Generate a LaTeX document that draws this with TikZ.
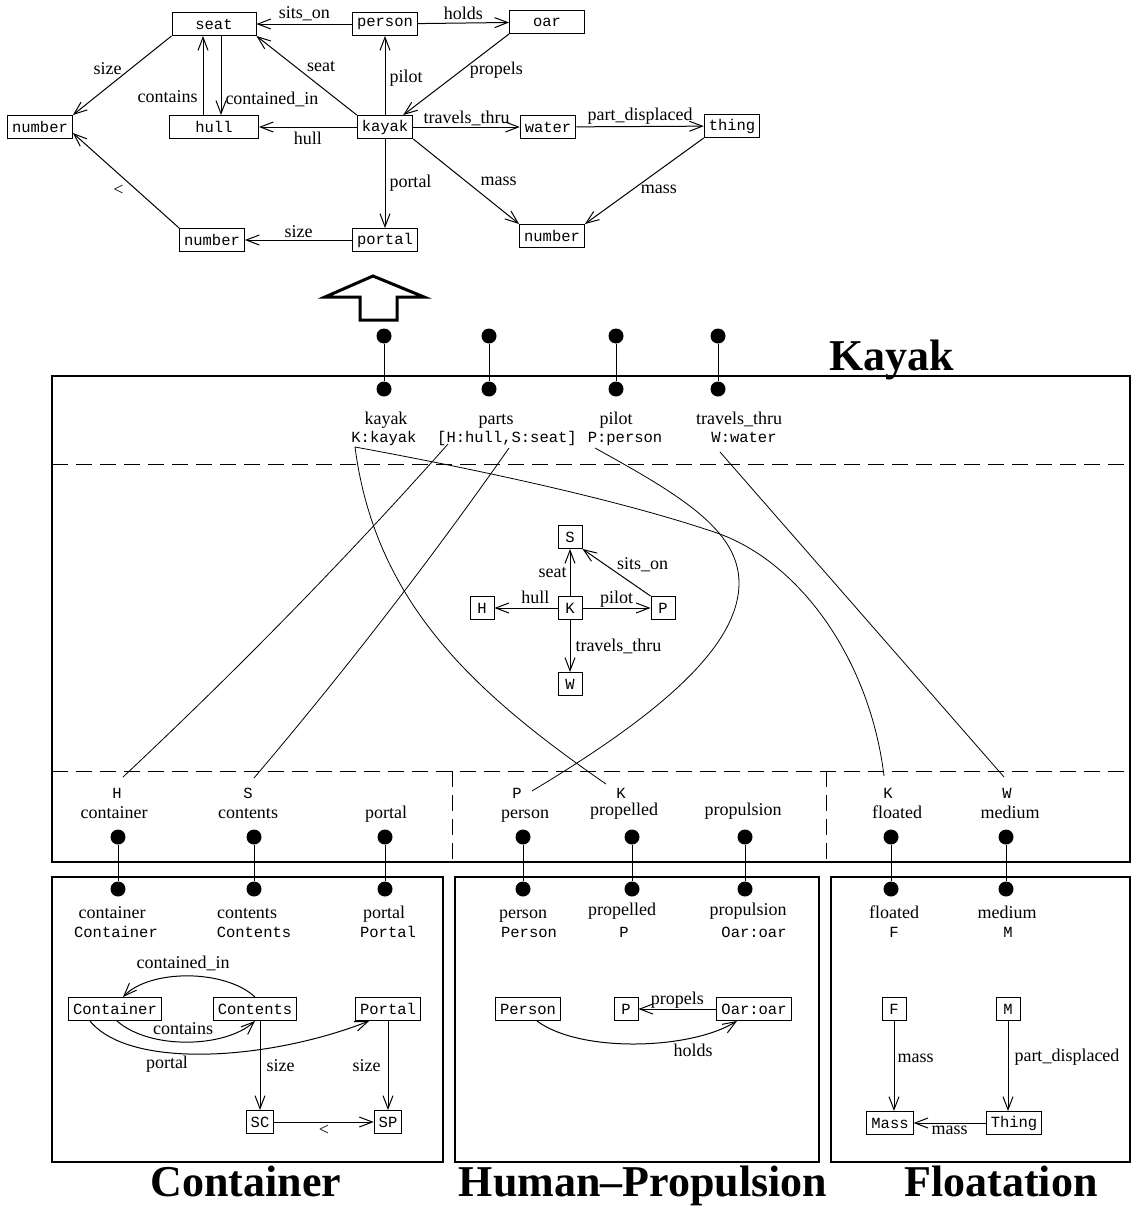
\documentclass[tikz,border=0pt]{standalone}
\usepackage{fontspec}
\setmainfont{Liberation Serif}
\setmonofont{Liberation Mono}
\usetikzlibrary{arrows.meta,positioning}
\newcommand{\labfont}{\fontsize{18}{20}\selectfont}
\newcommand{\objfont}{\fontsize{15.5}{18}\selectfont\ttfamily}
\newcommand{\ttlfont}{\fontsize{44}{48}\selectfont\bfseries}
\tikzstyle{every node}=[inner sep=0pt, font=\labfont]
\tikzstyle{obj}=[draw, rectangle, font=\objfont, inner xsep=4.5pt, minimum height=23pt, line width=1pt]
\tikzstyle{sq}=[obj, minimum width=24pt]
\tikzstyle{mono}=[font=\objfont, anchor=base]
\tikzstyle{rolelab}=[anchor=base]
\tikzstyle{rel}=[-{Straight Barb[length=13pt,width=10pt]}, line width=1pt]
\tikzstyle{link}=[line width=0.8pt]
\tikzstyle{port}=[circle, fill, minimum size=15pt]
\tikzstyle{mframe}=[line width=1.2pt]
\tikzstyle{dashsep}=[line width=1pt, dash pattern=on 16pt off 8pt]
\tikzstyle{ttl}=[font=\ttlfont, anchor=base]

\begin{document}
\begin{tikzpicture}[x=1pt, y=-1pt]
\useasboundingbox (0,0) rectangle (1132,1210);

% top graph
\node[obj, minimum width=84pt] (tseat) at (214,24) {seat};
\node[obj] (tpers) at (385,24) {person};
\node[obj, minimum width=75pt] (toar) at (547,22) {oar};
\node[obj] (tnumL) at (40,127) {number};
\node[obj, minimum width=89pt] (thull) at (214,127) {hull};
\node[obj] (tkay) at (385,127) {kayak};
\node[obj] (twat) at (548,127) {water};
\node[obj] (tthing) at (732,126) {thing};
\node[obj] (tnumB) at (212,240) {number};
\node[obj] (tport) at (385,240) {portal};
\node[obj] (tnumR) at (552,236) {number};

\draw[rel] (tpers) -- node[above=3pt] (lsits) {sits\_on} (tseat);
\draw[rel] (tpers) -- node[above=3pt] (lholds) {holds} (toar);
\draw[rel] (toar.south west) -- node[pos=0.45, right=8pt] (lprop) {propels} ([xshift=-10pt]tkay.north east);
\draw[rel] (tkay.north west) -- node[above right=3pt and 0pt] (lseat) {seat} (tseat.south east);
\draw[rel] (tkay) -- node[pos=0.46, right=4pt] (lpilot) {pilot} (tpers);
\draw[rel] (tseat.south west) -- node[above left=0pt] (lsize) {size} (tnumL.north east);
\draw[rel] ([xshift=-11pt]thull.north) -- node[pos=0.23, left=5pt] (lcont) {contains} ([xshift=-11pt]tseat.south);
\draw[rel] ([xshift=7pt]tseat.south) -- node[pos=0.8, right=4pt] (lcontin) {contained\_in} ([xshift=7pt]thull.north);
\draw[rel] (tkay) -- node[below=5pt] (lhull) {hull} (thull);
\draw[rel] (tkay) -- node[above=1pt] (ltrav) {travels\_thru} (twat);
\draw[rel] (twat) -- node[above=2pt] (lpart) {part\_displaced} (tthing);
\draw[rel] (tkay.south east) -- node[right=14pt] (lmass) {mass} (tnumR.north west);
\draw[rel] (tthing.south west) -- node[below right=4pt and -4pt] (lmassb) {mass} (tnumR.north east);
\draw[rel] (tkay) -- node[right=4pt] (lportal) {portal} (tport);
\draw[rel] (tport) -- node[above=2pt] (lsizeb) {size} (tnumB);
\draw[rel] (tnumB.north west) -- node[below left=4pt and 2pt] (lless) {<} ([yshift=6pt]tnumL.south east);

% hollow arrow
\draw[line width=3pt] (325,297) -- (373,276) -- (424,297) -- (397,297) -- (397,320) -- (360,320) -- (360,297) -- cycle;

% Kayak
\draw[mframe] (52,376) rectangle (1130,862);
\draw[dashsep] (52,464) -- (1130,464);
\draw[dashsep] (52,771) -- (1130,771);
\draw[dashsep] (452,771) -- (452,862);
\draw[dashsep] (826,771) -- (826,862);
\node[ttl] (tkayak) at (892,370) {Kayak};

\node[port] (pkayo) at (384,336) {};
\node[port] (pkayi) at (384,389) {};
\draw[link] (pkayo) -- (pkayi);
\node[port] (pparto) at (489,336) {};
\node[port] (pparti) at (489,389) {};
\draw[link] (pparto) -- (pparti);
\node[port] (ppilo) at (616,336) {};
\node[port] (ppili) at (616,389) {};
\draw[link] (ppilo) -- (ppili);
\node[port] (ptravo) at (718,336) {};
\node[port] (ptravi) at (718,389) {};
\draw[link] (ptravo) -- (ptravi);

\node[rolelab] (rkay) at (386,424) {kayak};
\node[mono] (vkay) at (384,442) {K:kayak};
\node[rolelab] (rparts) at (496,424) {parts};
\node[mono] (vparts) at (507,442) {[H:hull,S:seat]};
\node[rolelab] (rpilot) at (616,424) {pilot};
\node[mono] (vpilot) at (625,442) {P:person};
\node[rolelab] (rtrav) at (739,424) {travels\_thru};
\node[mono] (vtrav) at (744,442) {W:water};

\node[sq] (gS) at (570,537) {S};
\node[sq] (gK) at (570,608) {K};
\node[sq] (gH) at (482,608) {H};
\node[sq] (gP) at (663,608) {P};
\node[sq] (gW) at (570,684) {W};
\draw[rel] (gK) -- node[left=3pt] (lgseat) {seat} (gS);
\draw[rel] (gK) -- node[pos=0.35, above=4pt] (lghull) {hull} (gH);
\draw[rel] (gK) -- node[above=0pt] (lgpilot) {pilot} (gP);
\draw[rel] (gK) -- node[right=5pt] (lgtrav) {travels\_thru} (gW);
\draw[rel] (gP.north west) -- node[above right=0pt] (lgsits) {sits\_on} (gS.south east);

\coordinate (cK) at (355,447);
\coordinate (cH) at (448,444);
\coordinate (cS) at (509,448);
\coordinate (cP) at (595,448);
\coordinate (cW) at (720,452);
\coordinate (dH) at (123,777);
\coordinate (dS) at (254,778);
\coordinate (dP) at (532,791);
\coordinate (dKa) at (606,784);
\coordinate (dKb) at (884,776);
\coordinate (dW) at (1004,777);
\draw[link] (cK) .. controls (375,600) and (470,690) .. (dKa);
\draw[link] (cK) .. controls (480,470) and (620,500) .. (717,533) .. controls (800,562) and (870,660) .. (dKb);
\draw[link] (cP) .. controls (680,495) and (739,530) .. (739,583) .. controls (739,650) and (650,720) .. (dP);
\draw[link] (cH) .. controls (345,560) and (236,671) .. (dH);
\draw[link] (cS) .. controls (429,562) and (344,672) .. (dS);
\draw[link] (cW) -- (dW);

\node[mono] (vH) at (117,798) {H};
\node[rolelab] (rcon) at (114,818) {container};
\node[mono] (vS) at (248,798) {S};
\node[rolelab] (rcont) at (248,818) {contents};
\node[rolelab] (rport) at (386,818) {portal};
\node[mono] (vP) at (517,798) {P};
\node[rolelab] (rpers) at (525,818) {person};
\node[mono] (vK) at (621,798) {K};
\node[rolelab] (rprop) at (624,815) {propelled};
\node[rolelab] (rpuls) at (743,815) {propulsion};
\node[mono] (vKb) at (888,798) {K};
\node[rolelab] (rfloat) at (897,818) {floated};
\node[mono] (vW) at (1007,798) {W};
\node[rolelab] (rmed) at (1010,818) {medium};

\node[port] (pcono) at (118,837) {};
\node[port] (pconi) at (118,889) {};
\draw[link] (pcono) -- (pconi);
\node[port] (pconto) at (254,837) {};
\node[port] (pconti) at (254,889) {};
\draw[link] (pconto) -- (pconti);
\node[port] (pporto) at (385,837) {};
\node[port] (pporti) at (385,889) {};
\draw[link] (pporto) -- (pporti);
\node[port] (ppero) at (523,837) {};
\node[port] (pperi) at (523,889) {};
\draw[link] (ppero) -- (pperi);
\node[port] (pprlo) at (632,837) {};
\node[port] (pprli) at (632,889) {};
\draw[link] (pprlo) -- (pprli);
\node[port] (ppulo) at (745,837) {};
\node[port] (ppuli) at (745,889) {};
\draw[link] (ppulo) -- (ppuli);
\node[port] (pfloo) at (891,837) {};
\node[port] (pfloi) at (891,889) {};
\draw[link] (pfloo) -- (pfloi);
\node[port] (pmedo) at (1006,837) {};
\node[port] (pmedi) at (1006,889) {};
\draw[link] (pmedo) -- (pmedi);

% Container
\draw[mframe] (52,877) rectangle (443,1162);
\node[ttl] (tcont) at (246,1196) {Container};
\node[rolelab] (rcon2) at (112,918) {container};
\node[mono] (vcon2) at (116,937) {Container};
\node[rolelab] (rcont2) at (247,918) {contents};
\node[mono] (vcont2) at (254,937) {Contents};
\node[rolelab] (rport2) at (384,918) {portal};
\node[mono] (vport2) at (388,937) {Portal};

\node[obj] (ccon) at (115,1009) {Container};
\node[obj] (ccont) at (255,1009) {Contents};
\node[obj] (cport) at (388,1009) {Portal};
\node[obj] (csc) at (260,1122) {SC};
\node[obj] (csp) at (388,1122) {SP};
\draw[rel] (ccont.north) .. controls (225,969) and (150,969) .. ([xshift=8pt]ccon.north);
\node (lccontin) at (183,963) {contained\_in};
\draw[rel] ([xshift=2pt]ccon.south) .. controls (150,1050) and (225,1048) .. (ccont.south);
\node (lccont) at (183,1029) {contains};
\draw[rel] ([xshift=-25pt]ccon.south) .. controls (130,1070) and (270,1060) .. ([xshift=14pt]cport.south west);
\node (lcport) at (167,1064) {portal};
\draw[rel] ([xshift=5pt]ccont.south) -- node[right=6pt] (lcsize) {size} (csc);
\draw[rel] (cport) -- node[left=7pt] (lcsizeb) {size} (csp);
\draw[rel] (csc) -- node[below=3pt] (lcless) {<} (csp);

% Human-Propulsion
\draw[mframe] (455,877) rectangle (819,1162);
\node[ttl] (thum) at (643,1196) {Human–Propulsion};
\node[rolelab] (rpers2) at (523,918) {person};
\node[mono] (vpers2) at (529,937) {Person};
\node[rolelab] (rprop2) at (622,915) {propelled};
\node[mono] (vprop2) at (624,937) {P};
\node[rolelab] (rpuls2) at (748,915) {propulsion};
\node[mono] (vpuls2) at (754,937) {Oar:oar};

\node[obj] (hpers) at (528,1009) {Person};
\node[sq] (hp) at (626,1009) {P};
\node[obj] (hoar) at (754,1009) {Oar:oar};
\draw[rel] (hoar) -- node[above=0pt] (lhprop) {propels} (hp);
\draw[rel] ([xshift=9pt]hpers.south) .. controls (580,1053) and (690,1050) .. ([xshift=-17pt]hoar.south);
\node (lhholds) at (693,1050) {holds};

% Floatation
\draw[mframe] (831,877) rectangle (1130,1162);
\node[ttl] (tfloat) at (1001,1196) {Floatation};
\node[rolelab] (rfloat2) at (894,918) {floated};
\node[mono] (vfloat2) at (894,937) {F};
\node[rolelab] (rmed2) at (1007,918) {medium};
\node[mono] (vmed2) at (1008,937) {M};

\node[sq] (ff) at (894,1009) {F};
\node[sq] (fm) at (1008,1009) {M};
\node[obj] (fmass) at (890,1123) {Mass};
\node[obj] (fthing) at (1014,1123) {Thing};
\draw[rel] (ff.south) -- node[pos=0.42, right=3pt] (lfmass) {mass} (ff.south |- fmass.north);
\draw[rel] (fm.south) -- node[pos=0.4, right=6pt] (lfpart) {part\_displaced} (fm.south |- fthing.north);
\draw[rel] (fthing) -- node[below=3pt] (lfmassb) {mass} (fmass);

\end{tikzpicture}
\end{document}
